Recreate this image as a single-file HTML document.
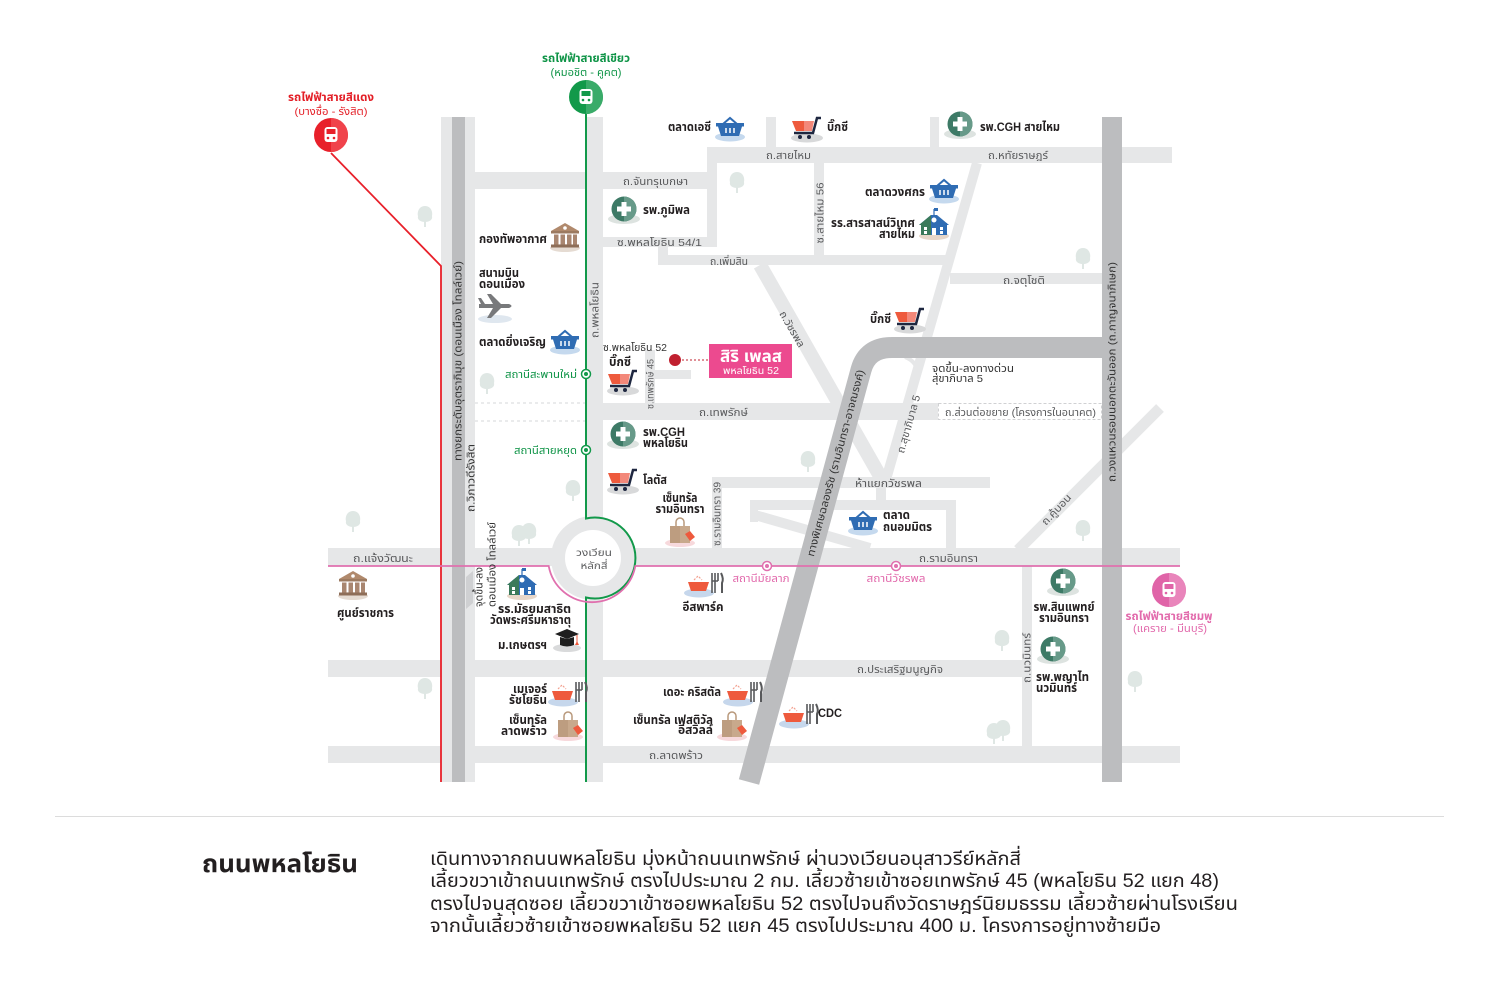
<!DOCTYPE html>
<html><head><meta charset="utf-8">
<style>
html,body{margin:0;padding:0;background:#fff;}
svg{display:block}
text{font-family:"Liberation Sans","Noto Sans Thai","Noto Sans Thai UI","Noto Sans Thai Looped","Sarabun","Loma","Garuda","DejaVu Sans",sans-serif}
.b{font-weight:bold;font-size:12px;fill:#231f20}
.r{font-size:10.5px;fill:#58595b}
.d{font-size:10.5px;fill:#333}
.gs{font-weight:bold;font-size:11.5px;fill:#0f9447}
.gn{font-size:11px;fill:#0f9447}
.rs{font-weight:bold;font-size:11.5px;fill:#e31e26}
.rn{font-size:10.5px;fill:#e31e26}
.pn{font-size:11px;fill:#e26aac}
.pb{font-weight:bold;font-size:11.5px;fill:#e26aac}
</style></head><body>
<svg width="1500" height="1000" viewBox="0 0 1500 1000" xmlns="http://www.w3.org/2000/svg">
<defs>
<g id="bk">
<ellipse cx="0" cy="9" rx="15" ry="4.5" fill="#c5d9ee"/>
<path d="M-7,-4 L0,-10 L7,-4" fill="none" stroke="#2f6cb3" stroke-width="2"/>
<rect x="-14" y="-5" width="28" height="3.5" fill="#2f6cb3"/>
<path d="M-12,-1.5 H12 L9,8 H-9 Z" fill="#2f6cb3"/>
<path d="M-4,0 V5 M0,0 V5 M4,0 V5" stroke="#fff" stroke-width="1.5"/>
</g>
<g id="ct">
<ellipse cx="0" cy="9" rx="16" ry="4.5" fill="#d8d9da"/>
<path d="M-15,-8 H-3 V2 H-11 Z" fill="#ee5a3d"/>
<path d="M-3,-8 H7 L5,2 H-3 Z" fill="#f3887a"/>
<path d="M-13,4 H6 L10,-11 H14" fill="none" stroke="#1e2740" stroke-width="2.5"/>
<circle cx="-7" cy="8" r="2" fill="#1e2740"/><circle cx="2" cy="8" r="2" fill="#1e2740"/>
</g>
<g id="hp">
<ellipse cx="0" cy="10" rx="16" ry="5" fill="#dde3e0"/>
<circle r="12.5" fill="#3d7a66"/>
<path d="M0,-12.5 A12.5,12.5 0 0 1 0,12.5 Z" fill="#679a89"/>
<rect x="-2.5" y="-7" width="5" height="14" fill="#fff"/>
<rect x="-7" y="-2.5" width="14" height="5" fill="#fff"/>
</g>
<g id="sc">
<ellipse cx="0" cy="11" rx="15" ry="4" fill="#e7d7c9"/>
<rect x="-13" y="-2" width="26" height="12" fill="#2f6cb3"/>
<rect x="-13" y="-2" width="10" height="12" fill="#3b7a5a"/>
<path d="M-15,0 L-3,-10 L3,-10 L15,0 Z" fill="#2f6cb3"/>
<path d="M-15,0 L-3,-10 L-3,0 Z" fill="#3b7a5a"/>
<line x1="0" y1="-10" x2="0" y2="-16" stroke="#2f6cb3" stroke-width="1.2"/>
<rect x="0" y="-17" width="4" height="3" fill="#2f6cb3"/>
<circle cx="0" cy="-5" r="2.5" fill="#fff"/>
<rect x="-10" y="2" width="3" height="3" fill="#fff"/>
<rect x="-10" y="6" width="3" height="3" fill="#fff"/>
<rect x="-2" y="3" width="4" height="7" fill="#fff"/>
<rect x="6" y="2" width="3" height="3" fill="#fff"/>
<rect x="6" y="6" width="3" height="3" fill="#fff"/>
</g>
<g id="gv">
<ellipse cx="0" cy="11" rx="15" ry="4" fill="#e5dbd2"/>
<path d="M-14,-6 L0,-14 L14,-6 Z" fill="#b0896c"/>
<circle cx="0" cy="-9" r="1.8" fill="#fff"/>
<rect x="-14" y="-6" width="28" height="2.5" fill="#9c7a60"/>
<rect x="-11" y="-2.5" width="4.5" height="10" fill="#a98670"/>
<rect x="-4.5" y="-2.5" width="4.5" height="10" fill="#a98670"/>
<rect x="2" y="-2.5" width="4.5" height="10" fill="#a98670"/>
<rect x="8" y="-2.5" width="4" height="10" fill="#a98670"/>
<rect x="-14" y="7.5" width="28" height="3" fill="#8e6e58"/>
</g>
<g id="bg">
<ellipse cx="0" cy="11" rx="15" ry="4" fill="#f7d9dc"/>
<path d="M-4,-6 V-10 A4,4 0 0 1 4,-10 V-6" fill="none" stroke="#b8987b" stroke-width="1.5"/>
<rect x="-10" y="-6" width="20" height="17" fill="#c8a98c"/>
<rect x="-10" y="-6" width="10" height="17" fill="#bd9d80"/>
<path d="M5,2 L10,-1 L15,5 L10,9 Z" fill="#ee5a3d"/>
</g>
<g id="rs">
<ellipse cx="-4" cy="8" rx="15" ry="4.5" fill="#c6d7ec"/>
<path d="M-15,-3 H6 L3,6 H-12 Z" fill="#ee5a3d"/>
<path d="M-9,-5 L-5,-9 L-1,-5" fill="none" stroke="#f3a08f" stroke-width="1.2" stroke-dasharray="2 1.5"/>
<path d="M9,-12 V8 M12,-12 V-4 M15,-12 V-4 M9,-4 H15" fill="none" stroke="#58595b" stroke-width="1.6"/>
<path d="M12,-4 V8" stroke="#58595b" stroke-width="1.6"/>
<path d="M18,-12 Q21,-6 19,-2 V8" fill="none" stroke="#58595b" stroke-width="2"/>
</g>
<g id="pl">
<ellipse cx="0" cy="13" rx="17" ry="4" fill="#dfe7ef"/>
<path d="M-16,-2 L14,-2 Q19,0 14,2 L-16,2 Z" fill="#78797b"/>
<path d="M-2,-2 L-8,-12 L-4,-12 L6,-2 Z" fill="#78797b"/>
<path d="M-2,2 L-8,12 L-4,12 L6,2 Z" fill="#78797b"/>
<path d="M-14,-2 L-17,-8 L-14,-8 L-10,-2 Z" fill="#78797b"/>
</g>
<g id="cp">
<ellipse cx="0" cy="8" rx="14" ry="4" fill="#d9dadb"/>
<path d="M-12,-6 L0,-11 L12,-6 L0,-1 Z" fill="#1e1e1e"/>
<path d="M-7,-3 V5 Q0,8 7,5 V-3 L0,-1 Z" fill="#1e1e1e"/>
<line x1="10" y1="-5" x2="10" y2="4" stroke="#ee5a3d"/>
<path d="M8,5 L12,5 L10,1 Z" fill="#ee5a3d"/>
</g>
<g id="tr">
<path d="M0,-10 C6,-10 8,-4 7,0 C8,4 4,6 0,6 C-4,6 -8,4 -7,0 C-8,-4 -6,-10 0,-10 Z" fill="#dfe7e4"/>
<rect x="-1" y="4" width="2" height="7" fill="#dfe7e4"/>
</g>
</defs>

<!-- light roads -->
<g fill="#e6e7e8">
<rect x="441" y="117" width="34" height="665"/>
<rect x="586" y="117" width="17" height="665"/>
<rect x="475" y="172" width="242" height="17"/>
<rect x="707" y="147" width="10" height="100"/>
<rect x="707" y="147" width="465" height="16"/>
<rect x="766" y="117" width="10" height="30"/>
<rect x="930" y="117" width="9" height="30"/>
<rect x="603" y="237" width="114" height="10"/>
<rect x="658" y="247" width="10" height="18"/>
<rect x="658" y="255" width="292" height="10"/>
<rect x="814" y="163" width="10" height="92"/>
<rect x="950" y="273" width="152" height="11"/>
<rect x="603" y="403" width="335" height="17"/>
<rect x="645" y="350" width="10" height="53"/>
<rect x="655" y="370" width="36" height="9"/>
<rect x="712" y="477" width="278" height="11"/>
<rect x="712" y="477" width="10" height="71"/>
<rect x="876" y="486" width="10" height="16"/>
<rect x="750" y="500" width="205" height="10"/>
<rect x="946" y="500" width="10" height="48"/>
<rect x="750" y="500" width="8" height="22"/>
<rect x="328" y="548" width="852" height="18"/>
<rect x="328" y="660" width="704" height="17"/>
<rect x="328" y="746" width="852" height="17"/>
<rect x="1022" y="566" width="10" height="180"/>
</g>
<g stroke="#e6e7e8" fill="none">
<line x1="977" y1="163" x2="885" y2="483" stroke-width="10"/>
<line x1="760" y1="265" x2="884" y2="483" stroke-width="14"/>
<line x1="755" y1="515" x2="870" y2="548" stroke-width="10"/>
<line x1="1018" y1="550" x2="1160" y2="408" stroke-width="11"/>
<path d="M905,357 Q918,362 917,374" stroke-width="4"/>
</g>
<!-- dashed future road -->
<rect x="938.5" y="403.5" width="163" height="16" fill="#fff" stroke="#d0d1d3" stroke-dasharray="3 2"/>
<g stroke="#d6d7d9" stroke-dasharray="3 3">
<line x1="475" y1="403" x2="586" y2="403"/>
<line x1="475" y1="421" x2="586" y2="421"/>
</g>
<!-- roundabout -->
<circle cx="593" cy="558" r="42" fill="#e6e7e8"/>
<circle cx="593" cy="558" r="28" fill="#fff"/>
<!-- dark highways -->
<rect x="452" y="117" width="13" height="665" fill="#bcbdbf"/>
<rect x="1102" y="117" width="20" height="665" fill="#bcbdbf"/>
<path d="M1112,347.5 L892,347.5 Q867,347.5 861,370 L749,782" fill="none" stroke="#bcbdbf" stroke-width="21"/>
<path d="M466,577 L473,571 L473,603 L466,609 Z" fill="#cfd0d2"/>

<!-- trees -->
<use href="#tr" x="425" y="216"/>
<use href="#tr" x="737" y="182"/>
<use href="#tr" x="1083" y="258"/>
<use href="#tr" x="487" y="383"/>
<use href="#tr" x="808" y="461"/>
<use href="#tr" x="353" y="521"/>
<use href="#tr" x="573" y="490"/>
<use href="#tr" x="519" y="535"/>
<use href="#tr" x="529" y="533"/>
<use href="#tr" x="1083" y="530"/>
<use href="#tr" x="1002" y="640"/>
<use href="#tr" x="1135" y="681"/>
<use href="#tr" x="425" y="688"/>
<use href="#tr" x="994" y="733"/>
<use href="#tr" x="1003" y="730"/>

<!-- transit lines -->
<polyline points="331,153 441,266 441,782" fill="none" stroke="#e8202a" stroke-width="1.8"/>
<path d="M586,114 V518.5 A40.5,40.5 0 1 1 586,597.5 V782" fill="none" stroke="#12994a" stroke-width="2"/>
<path d="M328,566 H548.7 A44,44 0 0 0 635.3,566 H1180" fill="none" stroke="#e070ae" stroke-width="1.8"/>

<!-- station dots -->
<g fill="#fff" stroke="#12994a" stroke-width="1.5">
<circle cx="586" cy="374" r="4.5"/><circle cx="586" cy="450" r="4.5"/>
</g>
<circle cx="586" cy="374" r="2" fill="#12994a"/><circle cx="586" cy="450" r="2" fill="#12994a"/>
<g fill="#fff" stroke="#e070ae" stroke-width="1.5">
<circle cx="767" cy="566" r="4.5"/><circle cx="896" cy="566" r="4.5"/>
</g>
<circle cx="767" cy="566" r="2" fill="#e070ae"/><circle cx="896" cy="566" r="2" fill="#e070ae"/>

<!-- big stations -->
<g transform="translate(331,135)">
<circle r="17" fill="#e8202a"/><path d="M0,-17 A17,17 0 0 1 0,17 Z" fill="#f0434b"/>
<rect x="-6.5" y="-8" width="13" height="15" rx="3" fill="#fff"/>
<rect x="-4.5" y="-6" width="9" height="5" fill="#e8202a"/>
<circle cx="-3" cy="3" r="1.3" fill="#e8202a"/><circle cx="3" cy="3" r="1.3" fill="#e8202a"/>
</g>
<g transform="translate(586,97)">
<circle r="17" fill="#12994a"/><path d="M0,-17 A17,17 0 0 1 0,17 Z" fill="#3aab69"/>
<rect x="-6.5" y="-8" width="13" height="15" rx="3" fill="#fff"/>
<rect x="-4.5" y="-6" width="9" height="5" fill="#12994a"/>
<circle cx="-3" cy="3" r="1.3" fill="#12994a"/><circle cx="3" cy="3" r="1.3" fill="#12994a"/>
</g>
<g transform="translate(1169,590)">
<circle r="17" fill="#e064a8"/><path d="M0,-17 A17,17 0 0 1 0,17 Z" fill="#e985bb"/>
<rect x="-6.5" y="-8" width="13" height="15" rx="3" fill="#fff"/>
<rect x="-4.5" y="-6" width="9" height="5" fill="#e064a8"/>
<circle cx="-3" cy="3" r="1.3" fill="#e064a8"/><circle cx="3" cy="3" r="1.3" fill="#e064a8"/>
</g>

<!-- project marker -->
<circle cx="675" cy="360" r="6" fill="#c0202f"/>
<line x1="682" y1="360" x2="710" y2="360" stroke="#c0202f" stroke-width="1" stroke-dasharray="2 2"/>
<rect x="709" y="344" width="83" height="34" fill="#ec4a8f"/>
<text x="751" y="362" text-anchor="middle" textLength="62" lengthAdjust="spacingAndGlyphs" style="font-weight:bold;font-size:17px;fill:#fff">สิริ เพลส</text>
<text x="751" y="374" text-anchor="middle" textLength="56" lengthAdjust="spacingAndGlyphs" style="font-size:10px;fill:#fff">พหลโยธิน 52</text>

<!-- icons -->
<use href="#bk" x="730" y="128"/>
<use href="#ct" x="807" y="129"/>
<use href="#hp" x="960" y="124"/>
<use href="#hp" x="624" y="209"/>
<use href="#bk" x="944" y="190"/>
<use href="#sc" x="934" y="225"/>
<use href="#gv" x="565" y="237"/>
<use href="#pl" x="495" y="306"/>
<use href="#bk" x="565" y="341"/>
<use href="#ct" x="623" y="382"/>
<use href="#ct" x="910" y="320"/>
<use href="#hp" x="623" y="434"/>
<use href="#ct" x="623" y="481"/>
<use href="#bg" x="680" y="532"/>
<use href="#bk" x="863" y="522"/>
<use href="#gv" x="353" y="585"/>
<use href="#sc" x="522" y="585"/>
<use href="#cp" x="567" y="640"/>
<use href="#rs" x="703" y="585"/>
<use href="#hp" x="1063" y="581"/>
<use href="#hp" x="1053" y="649"/>
<use href="#rs" x="567" y="694"/>
<use href="#bg" x="568" y="726"/>
<use href="#rs" x="742" y="694"/>
<use href="#bg" x="732" y="726"/>
<use href="#rs" x="798" y="716"/>

<!-- station titles -->
<text class="rs" x="331" y="101" text-anchor="middle" textLength="86" lengthAdjust="spacingAndGlyphs">รถไฟฟ้าสายสีแดง</text>
<text class="rn" x="331" y="115" text-anchor="middle" textLength="73" lengthAdjust="spacingAndGlyphs">(บางซื่อ - รังสิต)</text>
<text class="gs" x="586" y="62" text-anchor="middle" textLength="88" lengthAdjust="spacingAndGlyphs">รถไฟฟ้าสายสีเขียว</text>
<text class="gn" x="586" y="76" text-anchor="middle" textLength="71" lengthAdjust="spacingAndGlyphs">(หมอชิต - คูคต)</text>
<text class="pb" x="1169" y="620" text-anchor="middle" textLength="87" lengthAdjust="spacingAndGlyphs">รถไฟฟ้าสายสีชมพู</text>
<text class="pn" x="1170" y="632" text-anchor="middle" textLength="74" lengthAdjust="spacingAndGlyphs">(แคราย - มีนบุรี)</text>

<!-- place labels -->
<text class="b" x="711" y="131" text-anchor="end" textLength="43" lengthAdjust="spacingAndGlyphs">ตลาดเอซี</text>
<text class="b" x="827" y="131" textLength="21" lengthAdjust="spacingAndGlyphs">บิ๊กซี</text>
<text class="b" x="980" y="131" textLength="80" lengthAdjust="spacingAndGlyphs">รพ.CGH สายไหม</text>
<text class="b" x="643" y="214" textLength="47" lengthAdjust="spacingAndGlyphs">รพ.ภูมิพล</text>
<text class="b" x="925" y="196" text-anchor="end" textLength="60" lengthAdjust="spacingAndGlyphs">ตลาดวงศกร</text>
<text class="b" x="915" y="227" text-anchor="end" textLength="84" lengthAdjust="spacingAndGlyphs">รร.สารสาสน์วิเทศ</text>
<text class="b" x="915" y="238" text-anchor="end" textLength="36" lengthAdjust="spacingAndGlyphs">สายไหม</text>
<text class="b" x="547" y="243" text-anchor="end" textLength="68" lengthAdjust="spacingAndGlyphs">กองทัพอากาศ</text>
<text class="b" x="479" y="277" textLength="40" lengthAdjust="spacingAndGlyphs">สนามบิน</text>
<text class="b" x="479" y="288" textLength="46" lengthAdjust="spacingAndGlyphs">ดอนเมือง</text>
<text class="b" x="479" y="346" textLength="67" lengthAdjust="spacingAndGlyphs">ตลาดยิ่งเจริญ</text>
<text class="gn" x="577" y="378" text-anchor="end" textLength="72" lengthAdjust="spacingAndGlyphs">สถานีสะพานใหม่</text>
<text class="gn" x="577" y="454" text-anchor="end" textLength="63" lengthAdjust="spacingAndGlyphs">สถานีสายหยุด</text>
<text class="b" x="609" y="366" textLength="22" lengthAdjust="spacingAndGlyphs">บิ๊กซี</text>
<text class="b" x="870" y="323" textLength="21" lengthAdjust="spacingAndGlyphs">บิ๊กซี</text>
<text class="b" x="643" y="436" textLength="42" lengthAdjust="spacingAndGlyphs">รพ.CGH</text>
<text class="b" x="643" y="447" textLength="45" lengthAdjust="spacingAndGlyphs">พหลโยธิน</text>
<text class="b" x="643" y="484" textLength="24" lengthAdjust="spacingAndGlyphs">โลตัส</text>
<text class="b" x="680" y="502" text-anchor="middle" textLength="35" lengthAdjust="spacingAndGlyphs">เซ็นทรัล</text>
<text class="b" x="680" y="513" text-anchor="middle" textLength="49" lengthAdjust="spacingAndGlyphs">รามอินทรา</text>
<text class="b" x="883" y="519" textLength="27" lengthAdjust="spacingAndGlyphs">ตลาด</text>
<text class="b" x="883" y="531" textLength="49" lengthAdjust="spacingAndGlyphs">ถนอมมิตร</text>
<text class="b" x="337" y="617" textLength="57" lengthAdjust="spacingAndGlyphs">ศูนย์ราชการ</text>
<text class="b" x="571" y="613" text-anchor="end" textLength="73" lengthAdjust="spacingAndGlyphs">รร.มัธยมสาธิต</text>
<text class="b" x="571" y="624" text-anchor="end" textLength="81" lengthAdjust="spacingAndGlyphs">วัดพระศรีมหาธาตุ</text>
<text class="b" x="547" y="649" text-anchor="end" textLength="49" lengthAdjust="spacingAndGlyphs">ม.เกษตรฯ</text>
<text class="b" x="703" y="611" text-anchor="middle" textLength="41" lengthAdjust="spacingAndGlyphs">อีสพาร์ค</text>
<text class="pn" x="761" y="582" text-anchor="middle" textLength="57" lengthAdjust="spacingAndGlyphs">สถานีมัยลาภ</text>
<text class="pn" x="896" y="582" text-anchor="middle" textLength="59" lengthAdjust="spacingAndGlyphs">สถานีวัชรพล</text>
<text class="b" x="1064" y="611" text-anchor="middle" textLength="61" lengthAdjust="spacingAndGlyphs">รพ.สินแพทย์</text>
<text class="b" x="1064" y="622" text-anchor="middle" textLength="50" lengthAdjust="spacingAndGlyphs">รามอินทรา</text>
<text class="b" x="1036" y="681" textLength="53" lengthAdjust="spacingAndGlyphs">รพ.พญาไท</text>
<text class="b" x="1036" y="692" textLength="41" lengthAdjust="spacingAndGlyphs">นวมินทร์</text>
<text class="b" x="547" y="693" text-anchor="end" textLength="34" lengthAdjust="spacingAndGlyphs">เมเจอร์</text>
<text class="b" x="547" y="704" text-anchor="end" textLength="38" lengthAdjust="spacingAndGlyphs">รัชโยธิน</text>
<text class="b" x="547" y="724" text-anchor="end" textLength="38" lengthAdjust="spacingAndGlyphs">เซ็นทรัล</text>
<text class="b" x="547" y="735" text-anchor="end" textLength="46" lengthAdjust="spacingAndGlyphs">ลาดพร้าว</text>
<text class="b" x="721" y="696" text-anchor="end" textLength="58" lengthAdjust="spacingAndGlyphs">เดอะ คริสตัล</text>
<text class="b" x="713" y="724" text-anchor="end" textLength="80" lengthAdjust="spacingAndGlyphs">เซ็นทรัล เฟสติวัล</text>
<text class="b" x="713" y="734" text-anchor="end" textLength="35" lengthAdjust="spacingAndGlyphs">อีสวิลล์</text>
<text class="b" x="818" y="717" textLength="24" lengthAdjust="spacingAndGlyphs">CDC</text>

<!-- road labels -->
<text class="r" x="766" y="159" textLength="45" lengthAdjust="spacingAndGlyphs">ถ.สายไหม</text>
<text class="r" x="988" y="159" textLength="60" lengthAdjust="spacingAndGlyphs">ถ.หทัยราษฎร์</text>
<text class="r" x="623" y="185" textLength="65" lengthAdjust="spacingAndGlyphs">ถ.จันทรุเบกษา</text>
<text class="r" x="617" y="246" textLength="85" lengthAdjust="spacingAndGlyphs">ซ.พหลโยธิน 54/1</text>
<text class="r" x="710" y="265" textLength="38" lengthAdjust="spacingAndGlyphs">ถ.เพิ่มสิน</text>
<text class="r" x="1003" y="284" textLength="42" lengthAdjust="spacingAndGlyphs">ถ.จตุโชติ</text>
<text class="d" x="603" y="351" textLength="64" lengthAdjust="spacingAndGlyphs">ซ.พหลโยธิน 52</text>
<text class="r" x="699" y="416" textLength="49" lengthAdjust="spacingAndGlyphs">ถ.เทพรักษ์</text>
<text class="d" x="932" y="372" textLength="82" lengthAdjust="spacingAndGlyphs">จุดขึ้น-ลงทางด่วน</text>
<text class="d" x="932" y="382" textLength="51" lengthAdjust="spacingAndGlyphs">สุขาภิบาล 5</text>
<text class="r" x="945" y="416" textLength="151" lengthAdjust="spacingAndGlyphs">ถ.ส่วนต่อขยาย (โครงการในอนาคต)</text>
<text class="r" x="855" y="487" textLength="67" lengthAdjust="spacingAndGlyphs">ห้าแยกวัชรพล</text>
<text class="r" x="353" y="562" textLength="60" lengthAdjust="spacingAndGlyphs">ถ.แจ้งวัฒนะ</text>
<text class="r" x="919" y="562" textLength="59" lengthAdjust="spacingAndGlyphs">ถ.รามอินทรา</text>
<text class="r" x="857" y="673" textLength="86" lengthAdjust="spacingAndGlyphs">ถ.ประเสริฐมนูญกิจ</text>
<text class="r" x="649" y="759" textLength="54" lengthAdjust="spacingAndGlyphs">ถ.ลาดพร้าว</text>
<text class="d" x="594" y="556" text-anchor="middle" style="font-size:10px;fill:#58595b" textLength="36" lengthAdjust="spacingAndGlyphs">วงเวียน</text>
<text class="d" x="594" y="569" text-anchor="middle" style="font-size:10px;fill:#58595b" textLength="27" lengthAdjust="spacingAndGlyphs">หลักสี่</text>

<!-- rotated road labels -->
<text class="r" transform="translate(823.5,213) rotate(-90)" text-anchor="middle" textLength="61" lengthAdjust="spacingAndGlyphs">ซ.สายไหม 56</text>
<text class="r" transform="translate(598.5,310) rotate(-90)" text-anchor="middle" textLength="56" lengthAdjust="spacingAndGlyphs">ถ.พหลโยธิน</text>
<text class="r" transform="translate(653.5,384) rotate(-90)" text-anchor="middle" style="font-size:9.5px" textLength="50" lengthAdjust="spacingAndGlyphs">ซ.เทพรักษ์ 45</text>
<text class="r" transform="translate(720.5,514) rotate(-90)" text-anchor="middle" textLength="64" lengthAdjust="spacingAndGlyphs">ซ.รามอินทรา 39</text>
<text class="r" transform="translate(1030.5,658) rotate(-90)" text-anchor="middle" textLength="50" lengthAdjust="spacingAndGlyphs">ถ.นวมินทร์</text>
<text class="d" transform="translate(1115.5,372) rotate(-90)" text-anchor="middle" textLength="220" lengthAdjust="spacingAndGlyphs">ถ.วงแหวนรอบนอกตะวันออก (ถ.กาญจนาภิเษก)</text>
<text class="d" transform="translate(461.5,361) rotate(-90)" text-anchor="middle" textLength="200" lengthAdjust="spacingAndGlyphs">ทางยกระดับอุตราภิมุข (ดอนเมือง โทลล์เวย์)</text>
<text class="d" transform="translate(474.5,478) rotate(-90)" text-anchor="middle" textLength="68" lengthAdjust="spacingAndGlyphs">ถ.วิภาวดีรังสิต</text>
<text class="d" transform="translate(482.5,607) rotate(-90)" textLength="40" lengthAdjust="spacingAndGlyphs">จุดขึ้น-ลง</text>
<text class="d" transform="translate(495.5,607) rotate(-90)" textLength="85" lengthAdjust="spacingAndGlyphs">ดอนเมือง โทลล์เวย์</text>
<text class="d" transform="translate(839,464) rotate(-74.8)" text-anchor="middle" textLength="193" lengthAdjust="spacingAndGlyphs">ทางพิเศษฉลองรัช (รามอินทรา-อาจณรงค์)</text>
<text class="r" transform="translate(912,425) rotate(-74)" text-anchor="middle" textLength="60" lengthAdjust="spacingAndGlyphs">ถ.สุขาภิบาล 5</text>
<text class="r" transform="translate(789,331) rotate(60)" text-anchor="middle" textLength="40" lengthAdjust="spacingAndGlyphs">ถ.วัชรพล</text>
<text class="r" transform="translate(1059,512) rotate(-47)" text-anchor="middle" textLength="38" lengthAdjust="spacingAndGlyphs">ถ.คู้บอน</text>

<!-- separator -->
<line x1="55" y1="816.5" x2="1444" y2="816.5" stroke="#dcdcdc" stroke-width="1"/>

<!-- bottom text -->
<text x="202" y="872" textLength="156" lengthAdjust="spacingAndGlyphs" style="font-weight:bold;font-size:25px;fill:#231f20">ถนนพหลโยธิน</text>
<g style="font-size:19px;fill:#231f20">
<text x="430" y="865" textLength="591" lengthAdjust="spacingAndGlyphs">เดินทางจากถนนพหลโยธิน มุ่งหน้าถนนเทพรักษ์ ผ่านวงเวียนอนุสาวรีย์หลักสี่</text>
<text x="430" y="887" textLength="789" lengthAdjust="spacingAndGlyphs">เลี้ยวขวาเข้าถนนเทพรักษ์ ตรงไปประมาณ 2 กม. เลี้ยวซ้ายเข้าซอยเทพรักษ์ 45 (พหลโยธิน 52 แยก 48)</text>
<text x="430" y="910" textLength="808" lengthAdjust="spacingAndGlyphs">ตรงไปจนสุดซอย เลี้ยวขวาเข้าซอยพหลโยธิน 52 ตรงไปจนถึงวัดราษฎร์นิยมธรรม เลี้ยวซ้ายผ่านโรงเรียน</text>
<text x="430" y="932" textLength="731" lengthAdjust="spacingAndGlyphs">จากนั้นเลี้ยวซ้ายเข้าซอยพหลโยธิน 52 แยก 45 ตรงไปประมาณ 400 ม. โครงการอยู่ทางซ้ายมือ</text>
</g>
</svg>
</body></html>
